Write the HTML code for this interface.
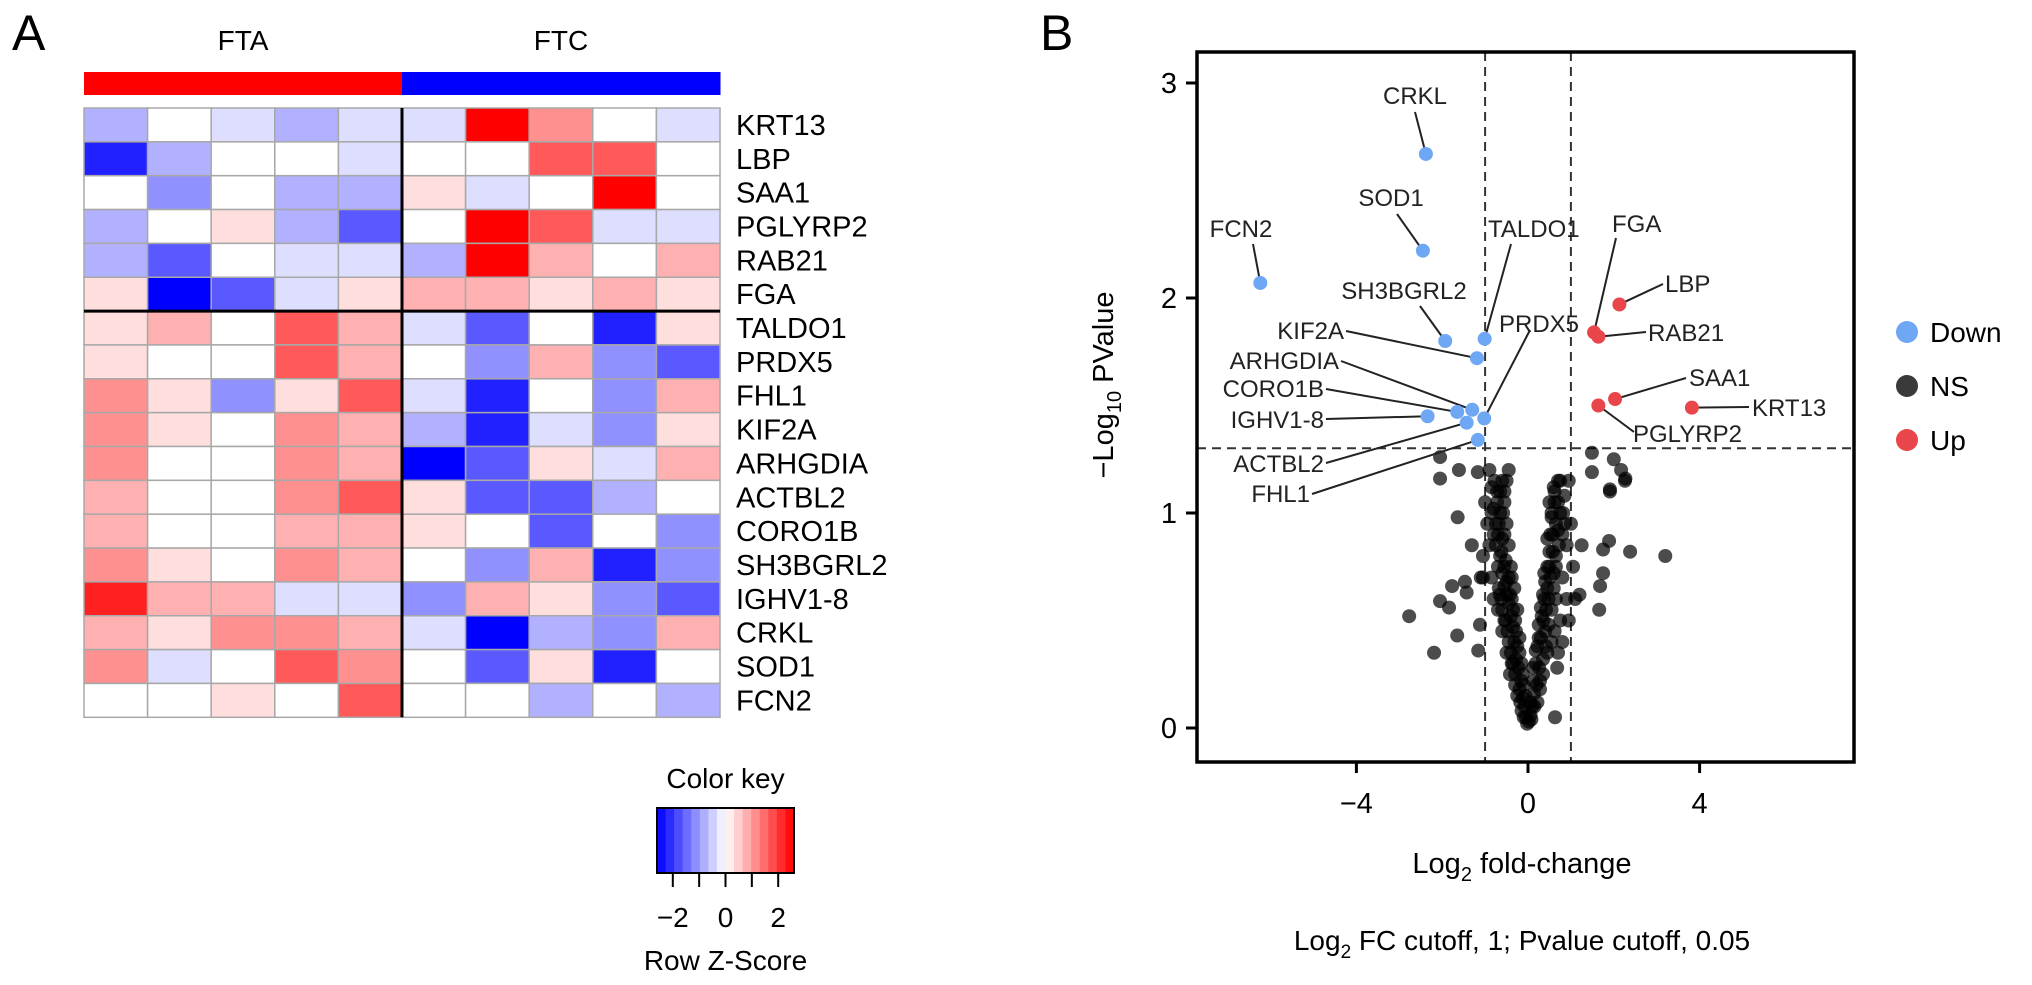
<!DOCTYPE html>
<html><head><meta charset="utf-8">
<style>
html,body{margin:0;padding:0;background:#fff;}
svg{display:block;font-family:"Liberation Sans",Arial,sans-serif;}
</style></head>
<body>
<svg id="fig" width="2032" height="985" viewBox="0 0 2032 985" xmlns="http://www.w3.org/2000/svg">
  <text x="12" y="50" font-size="50">A</text>
  <text x="1040" y="50" font-size="50">B</text>
  <g id="heat"></g>
  <g id="volc"></g>
</svg>
<script>
// ---------- Heatmap data ----------
const genes = ["KRT13","LBP","SAA1","PGLYRP2","RAB21","FGA","TALDO1","PRDX5","FHL1","KIF2A","ARHGDIA","ACTBL2","CORO1B","SH3BGRL2","IGHV1-8","CRKL","SOD1","FCN2"];
const groups = ["FTA","FTA","FTA","FTA","FTA","FTC","FTC","FTC","FTC","FTC"];
const groupLabels = ["FTA","FTC"];
const zKRT13 = [-0.7,0,-0.3,-0.7,-0.3,-0.3,3,1,0,-0.3];
const zLBP = [-2,-0.7,0,0,-0.3,0,0,1.5,1.5,0];
const zSAA1 = [0,-1,0,-0.7,-0.7,0.3,-0.3,0,3,0];
const zPGLYRP2 = [-0.7,0,0.3,-0.7,-1.5,0,2.5,1.5,-0.3,-0.3];
const zRAB21 = [-0.7,-1.5,0,-0.3,-0.3,-0.7,2.5,0.7,0,0.7];
const zFGA = [0.3,-3,-1.5,-0.3,0.3,0.7,0.7,0.3,0.7,0.3];
const zTALDO1 = [0.3,0.7,0,1.5,0.7,-0.3,-1.5,0,-2,0.3];
const zPRDX5 = [0.3,0,0,1.5,0.7,0,-1,0.7,-1,-1.5];
const zFHL1 = [1,0.3,-1,0.3,1.5,-0.3,-2,0,-1,0.7];
const zKIF2A = [1,0.3,0,1,0.7,-0.7,-2,-0.3,-1,0.3];
const zARHGDIA = [1,0,0,1,0.7,-3,-1.5,0.3,-0.3,0.7];
const zACTBL2 = [0.7,0,0,1,1.5,0.3,-1.5,-1.5,-0.7,0];
const zCORO1B = [0.7,0,0,0.7,0.7,0.3,0,-1.5,0,-1];
const zSH3BGRL2 = [1,0.3,0,1,0.7,0,-1,0.7,-2,-1];
const zIGHV18 = [2,0.7,0.7,-0.3,-0.3,-1,0.7,0.3,-1,-1.5];
const zCRKL = [0.7,0.3,1,1,0.7,-0.3,-2.5,-0.7,-1,0.7];
const zSOD1 = [1,-0.3,0,1.5,1,0,-1.5,0.3,-2,0];
const zFCN2 = [0,0,0.3,0,1.5,0,0,-0.7,0,-0.7];
const zRows = [zKRT13,zLBP,zSAA1,zPGLYRP2,zRAB21,zFGA,zTALDO1,zPRDX5,zFHL1,zKIF2A,zARHGDIA,zACTBL2,zCORO1B,zSH3BGRL2,zIGHV18,zCRKL,zSOD1,zFCN2];
const keyTicks = [-2,-1,0,1,2];
const keyTickLabels = [-2,0,2];

// ---------- Volcano data ----------
const sigGenes = ["CRKL","SOD1","FCN2","SH3BGRL2","TALDO1","KIF2A","ARHGDIA","CORO1B","IGHV1-8","PRDX5","ACTBL2","FHL1","FGA","RAB21","LBP","SAA1","PGLYRP2","KRT13"];
const sigFC = [-2.38,-2.45,-6.24,-1.93,-1.01,-1.19,-1.30,-1.65,-2.34,-1.02,-1.43,-1.17,1.54,1.64,2.13,2.03,1.64,3.82];
const sigP = [2.67,2.22,2.07,1.80,1.81,1.72,1.48,1.47,1.45,1.44,1.42,1.34,1.84,1.82,1.97,1.53,1.50,1.49];
const sigClass = ["Down","Down","Down","Down","Down","Down","Down","Down","Down","Down","Down","Down","Up","Up","Up","Up","Up","Up"];
const nsFC = [-2.77,-2.19,-2.05,-1.84,-1.77,-1.65,-1.47,-1.43,-1.16,-1.12,-1.05,-1.64,-1.31,2.38,1.89,1.75,1.75,1.68,1.66,1.91,2.26,0.63,3.2,-2.05,-2.05,-1.61,-1.17,1.49,1.49,2.0,2.17,2.27,1.91,
-0.02,-0.05,-0.08,-0.12,-0.1,-0.16,-0.2,-0.22,-0.15,-0.28,-0.25,-0.32,-0.2,-0.35,-0.3,-0.4,-0.25,-0.45,-0.38,-0.5,-0.32,-0.55,-0.45,-0.6,-0.4,-0.52,-0.65,-0.45,-0.6,-0.7,-0.5,-0.65,-0.8,-0.55,-0.72,-0.6,-0.85,-0.75,-0.9,-0.85,-0.7,-0.6,-0.5,-0.42,-0.55,-0.62,-0.68,-0.35,-0.3,-0.48,-0.18,-0.4,-0.95,-1.0,-0.9,-0.45,-0.5,-0.8,-1.05,-1.1,
0.02,0.06,0.1,0.14,0.12,0.2,0.18,0.26,0.22,0.3,0.25,0.36,0.3,0.42,0.35,0.48,0.4,0.52,0.45,0.6,0.5,0.65,0.45,0.58,0.7,0.55,0.75,0.62,0.85,0.7,0.95,0.6,0.8,0.9,0.75,0.62,0.55,0.45,0.35,0.28,0.4,0.65,0.9,1.0,0.85,1.05,1.1,0.95,0.8,0.7,1.2,1.25,0.68,
-0.1,-0.15,-0.06,-0.25,-0.3,-0.12,-0.2,-0.38,-0.45,-0.28,-0.35,-0.52,-0.6,-0.42,-0.5,-0.66,-0.7,-0.55,-0.38,-0.62,-0.75,-0.55,-0.68,-0.8,-0.58,-0.72,-0.85,-0.65,-0.78,-0.55,
0.08,0.15,0.05,0.22,0.28,0.12,0.18,0.35,0.42,0.25,0.32,0.48,0.55,0.38,0.45,0.6,0.65,0.5,0.38,0.58,0.72,0.52,0.65,0.8,0.55,0.7,0.82,0.62,0.75,0.5];
const nsP = [0.52,0.35,0.59,0.56,0.66,0.43,0.68,0.63,0.36,0.48,0.70,0.98,0.85,0.82,0.87,0.83,0.72,0.66,0.55,1.10,1.15,0.05,0.80,1.26,1.16,1.20,1.19,1.28,1.19,1.25,1.20,1.16,1.11,
0.02,0.05,0.1,0.14,0.2,0.22,0.18,0.28,0.3,0.32,0.38,0.4,0.42,0.47,0.5,0.52,0.55,0.58,0.6,0.62,0.65,0.66,0.7,0.72,0.75,0.78,0.8,0.85,0.88,0.9,0.95,1.0,1.02,1.05,1.1,1.15,1.12,0.95,0.85,0.7,0.55,0.45,0.35,0.25,0.5,0.6,0.65,0.3,0.2,0.45,0.12,0.35,0.95,1.05,1.2,1.2,1.15,0.6,0.8,0.7,
0.03,0.06,0.1,0.16,0.22,0.2,0.3,0.28,0.38,0.42,0.48,0.5,0.56,0.55,0.62,0.6,0.68,0.7,0.75,0.72,0.82,0.8,0.88,0.9,0.92,0.98,1.0,1.05,1.08,1.15,1.15,1.12,0.7,0.6,0.5,0.45,0.4,0.35,0.25,0.18,0.45,0.6,0.85,0.95,0.95,0.75,0.6,0.5,0.4,0.35,0.62,0.85,0.28,
0.05,0.08,0.15,0.15,0.25,0.25,0.35,0.3,0.4,0.45,0.55,0.5,0.55,0.62,0.68,0.62,0.75,0.75,0.7,0.82,0.85,0.9,0.95,0.9,1.0,1.05,1.0,1.1,1.15,1.1,
0.04,0.1,0.12,0.12,0.22,0.28,0.36,0.32,0.38,0.42,0.52,0.48,0.55,0.6,0.65,0.65,0.75,0.75,0.72,0.82,0.85,0.9,0.95,0.9,1.0,1.05,1.0,1.1,1.15,1.05];
const xTicks = [-4,0,4];
const yTicks = [0,1,2,3];
const fcCut = 1;
const pCut = 1.301;
const legendItems = ["Down","NS","Up"];
</script>
<script>
const NS = "http://www.w3.org/2000/svg";
function mk(tag, attrs, parent, txt){
  const e = document.createElementNS(NS, tag);
  for (const k in attrs) e.setAttribute(k, attrs[k]);
  if (txt !== undefined) e.textContent = txt;
  parent.appendChild(e);
  return e;
}
// ---------- Heatmap ----------
const heat = document.getElementById('heat');
const HX = 84, HY = 108, CW = 63.6, RH = 33.85;
function zColor(z){
  const t = Math.min(1, Math.abs(z)/2.3);
  const c = Math.round(255*(1-t));
  return z < 0 ? `rgb(${c},${c},255)` : `rgb(255,${c},${c})`;
}
groupLabels.forEach((g,i)=>{
  const t = mk('text',{x:HX+CW*5*i+CW*2.5,y:50,'font-size':28,'text-anchor':'middle'},heat,g);
  
  
});
groups.forEach((g,i)=>{
  const r = mk('rect',{x:HX+CW*i,y:72,width:CW+0.5,height:23,fill:g==="FTA"?"#ff0000":"#0000ff"},heat);
  
  
});
zRows.forEach((row,ri)=>{
  row.forEach((z,ci)=>{
    const r = mk('rect',{x:HX+CW*ci,y:HY+RH*ri,width:CW,height:RH,fill:zColor(z),stroke:'#a8a8a8','stroke-width':1.5},heat);
    
    
  });
  const t = mk('text',{x:HX+CW*10+16,y:HY+RH*ri+RH/2+10,'font-size':29},heat,genes[ri]);
  
  
});
const vsep = mk('line',{x1:HX+CW*5,x2:HX+CW*5,y1:HY,y2:HY+RH*18,stroke:'#000','stroke-width':3},heat);


const hsep = mk('line',{x1:HX,x2:HX+CW*10,y1:HY+RH*6,y2:HY+RH*6,stroke:'#000','stroke-width':3},heat);


// color key
const KX0 = 657, KX1 = 794, KY0 = 808, KY1 = 873;
const key = mk('g',{},heat);


const kt = mk('text',{x:(KX0+KX1)/2,y:788,'font-size':28,'text-anchor':'middle'},key,'Color key');


const kscale = z => KX0 + (z+2.6)/5.2*(KX1-KX0);
for (let i=0;i<16;i++){
  const z0 = -2.6 + i*5.2/16;
  mk('rect',{x:kscale(z0),y:KY0,width:(KX1-KX0)/16+0.5,height:KY1-KY0,fill:zColor((z0+5.2/32)*0.9)},key);
}
mk('rect',{x:KX0,y:KY0,width:KX1-KX0,height:KY1-KY0,fill:'none',stroke:'#000','stroke-width':2},key);
keyTicks.forEach(z=>{
  const l = mk('line',{x1:kscale(z),x2:kscale(z),y1:KY1,y2:KY1+14,stroke:'#000','stroke-width':2},key);
  
  
});
keyTickLabels.forEach(z=>{
  const t = mk('text',{x:kscale(z),y:927,'font-size':28,'text-anchor':'middle'},key,z<0?'\u2212'+Math.abs(z):String(z));
  
  
});
const kz = mk('text',{x:(KX0+KX1)/2,y:970,'font-size':28,'text-anchor':'middle'},key,'Row Z-Score');



// ---------- Volcano ----------
const volc = document.getElementById('volc');
const BL = 1197, BR = 1854, BT = 52, BB = 762;
const xs = v => 1528 + 42.9*v;
const ys = v => 728 - 215*v;
const colorOf = {Down:'#6ea7f4', NS:'#3a3a3a', Up:'#e8464a'};
[-fcCut, fcCut].forEach(v=>{
  const l = mk('line',{x1:xs(v),x2:xs(v),y1:BT,y2:BB,stroke:'#333','stroke-width':2,'stroke-dasharray':'9,6'},volc);
  
  
});
const hl = mk('line',{x1:BL,x2:BR,y1:ys(pCut),y2:ys(pCut),stroke:'#333','stroke-width':2,'stroke-dasharray':'9,6'},volc);


nsFC.forEach((v,i)=>{
  const c = mk('circle',{cx:xs(v),cy:ys(nsP[i]),r:7,fill:'#000','fill-opacity':0.7},volc);
  
  
});
const labelPos = {
  CRKL:[1415,104,'middle',1415,112],
  SOD1:[1391,206,'middle',1397,214],
  FCN2:[1241,237,'middle',1253,244],
  SH3BGRL2:[1404,299,'middle',1420,306],
  TALDO1:[1488,237,'start',1511,244],
  KIF2A:[1344,339,'end',1346,331],
  ARHGDIA:[1339,369,'end',1341,361],
  CORO1B:[1324,397,'end',1326,389],
  'IGHV1-8':[1324,428,'end',1326,419],
  PRDX5:[1499,332,'start',1530,330],
  ACTBL2:[1324,472,'end',1326,463],
  FHL1:[1310,502,'end',1312,494],
  FGA:[1612,232,'start',1616,238],
  RAB21:[1648,341,'start',1646,332],
  LBP:[1665,292,'start',1663,284],
  SAA1:[1689,386,'start',1686,378],
  PGLYRP2:[1633,442,'start',1634,432],
  KRT13:[1752,416,'start',1749,407]
};
sigGenes.forEach((g,i)=>{
  const p = labelPos[g];
  const ln = mk('line',{x1:p[3],y1:p[4],x2:xs(sigFC[i]),y2:ys(sigP[i]),stroke:'#222','stroke-width':2},volc);
  
  
});
sigGenes.forEach((g,i)=>{
  const c = mk('circle',{cx:xs(sigFC[i]),cy:ys(sigP[i]),r:7,fill:colorOf[sigClass[i]]},volc);
  
  
  const p = labelPos[g];
  const t = mk('text',{x:p[0],y:p[1],'font-size':24,'text-anchor':p[2],fill:'#222'},volc,g);
  
  
});
const box = mk('rect',{x:BL,y:BT,width:BR-BL,height:BB-BT,fill:'none',stroke:'#000','stroke-width':3.5},volc);


yTicks.forEach(v=>{
  const l = mk('line',{x1:BL-11,x2:BL,y1:ys(v),y2:ys(v),stroke:'#000','stroke-width':3},volc);
  
  
  const t = mk('text',{x:BL-28,y:ys(v)+10,'font-size':29,'text-anchor':'middle'},volc,String(v));
  
  
});
xTicks.forEach(v=>{
  const l = mk('line',{x1:xs(v),x2:xs(v),y1:BB,y2:BB+11,stroke:'#000','stroke-width':3},volc);
  
  
  const t = mk('text',{x:xs(v),y:813,'font-size':29,'text-anchor':'middle'},volc,v<0?'\u2212'+Math.abs(v):String(v));
  
  
});
const xt = mk('text',{x:1522,y:873,'font-size':29,'text-anchor':'middle'},volc);


xt.innerHTML = 'Log<tspan font-size="20" dy="8">2</tspan><tspan dy="-8"> fold-change</tspan>';
const yt = mk('text',{transform:'translate(1113,385) rotate(-90)','font-size':29,'text-anchor':'middle'},volc);


yt.innerHTML = '\u2212Log<tspan font-size="20" dy="8">10</tspan><tspan dy="-8"> PValue</tspan>';
const cap = mk('text',{x:1522,y:950,'font-size':28,'text-anchor':'middle'},volc);


cap.innerHTML = 'Log<tspan font-size="19" dy="8">2</tspan><tspan dy="-8"> FC cutoff, 1; Pvalue cutoff, 0.05</tspan>';
legendItems.forEach((n,i)=>{
  const y = 332 + i*54;
  const c = mk('circle',{cx:1907,cy:y,r:11,fill:colorOf[n]},volc);
  
  
  const t = mk('text',{x:1930,y:y+10,'font-size':28},volc,n);
  
  
});
</script>
</body></html>
